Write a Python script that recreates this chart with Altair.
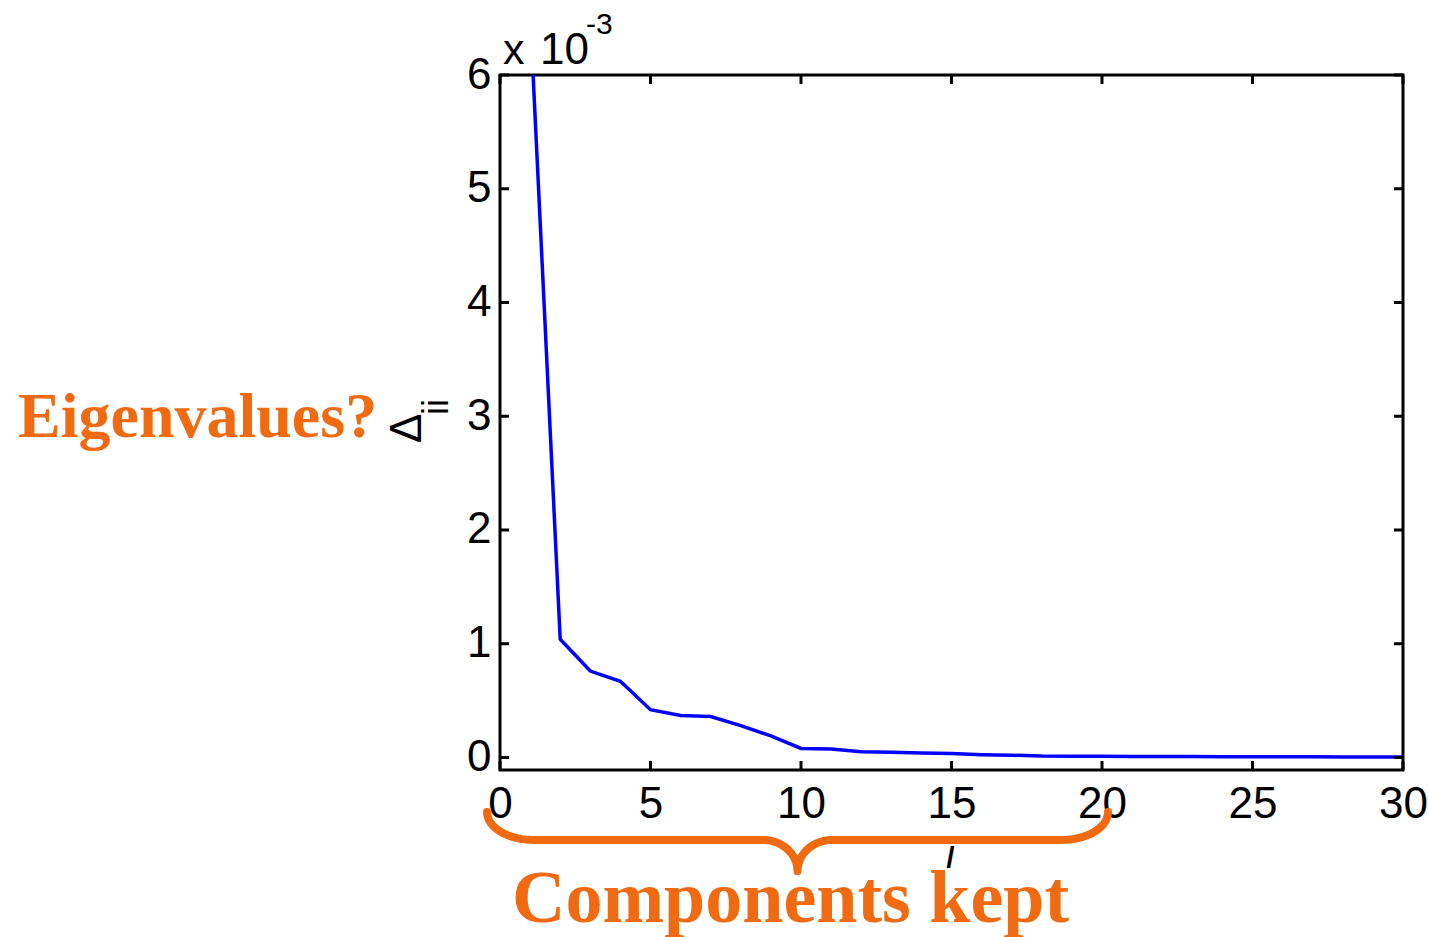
import altair as alt
import numpy as np
import pandas as pd

# ---- data (values in units of 1e-3) ----
comp_i = list(range(1, 31))
delta_ii = [6.55, 1.04, 0.76, 0.67, 0.42, 0.37, 0.36, 0.28, 0.19, 0.08,
            0.075, 0.05, 0.045, 0.04, 0.035, 0.025, 0.02, 0.012, 0.01, 0.01,
            0.009, 0.008, 0.008, 0.007, 0.007, 0.006, 0.006, 0.005, 0.005, 0.004]
x_ticks = [0, 5, 10, 15, 20, 25, 30]
y_ticks = [0, 1, 2, 3, 4, 5, 6]
x_domain = [0, 30]
y_domain = [-0.11, 6]

# brace annotation anchors (data units, below the axis)
brace_x0, brace_x1 = -0.43, 20.2
brace_y_end, brace_y_mid, brace_y_tip = -0.48, -0.725, -1.0
brace_rx_end, brace_rx_tip = 1.55, 1.15

ORANGE = "#EF6A10"
W, H = 903, 695


def brace_points():
    xc = (brace_x0 + brace_x1) / 2
    pts = []
    t = np.linspace(np.pi, 1.5 * np.pi, 20)
    cx = brace_x0 + brace_rx_end
    ry = brace_y_end - brace_y_mid
    for a in t:
        pts.append((cx + brace_rx_end * np.cos(a), brace_y_end + ry * np.sin(a)))
    t2 = np.linspace(0.5 * np.pi, 0.0, 20)
    cx2 = xc - brace_rx_tip
    ry2 = brace_y_mid - brace_y_tip
    for a in t2:
        pts.append((cx2 + brace_rx_tip * np.cos(a), brace_y_tip + ry2 * np.sin(a)))
    right = [(2 * xc - px, py) for px, py in reversed(pts[:-1])]
    allp = pts + right
    return pd.DataFrame({"i": [p[0] for p in allp], "v": [p[1] for p in allp],
                         "k": list(range(len(allp)))})


df = pd.DataFrame({"i": comp_i, "v": delta_ii})
xs = alt.Scale(domain=x_domain, nice=False, zero=False)
ys = alt.Scale(domain=y_domain, nice=False, zero=False)

lab = dict(labelFont="Liberation Sans", labelFontSize=44, labelColor="#000000",
           domain=False, ticks=False, grid=False, title=None, labelFlush=False,
           labelOverlap=False)
xax = alt.Axis(values=x_ticks, labelPadding=12, **lab)
yax = alt.Axis(values=y_ticks, labelPadding=9, **lab)
X = alt.X("i:Q", scale=xs, axis=xax)
Y = alt.Y("v:Q", scale=ys, axis=yax)

line = alt.Chart(df).mark_line(color="#0000FF", strokeWidth=3.5, clip=True).encode(
    x=X, y=Y)

xt = pd.DataFrame({"i": x_ticks})
yt = pd.DataFrame({"v": y_ticks})
tk = dict(color="black", strokeWidth=3)
tick_b = alt.Chart(xt).mark_rule(**tk).encode(x=X, y=alt.value(H), y2=alt.value(H - 9))
tick_t = alt.Chart(xt).mark_rule(**tk).encode(x=X, y=alt.value(0), y2=alt.value(9))
tick_l = alt.Chart(yt).mark_rule(**tk).encode(y=Y, x=alt.value(0), x2=alt.value(9))
tick_r = alt.Chart(yt).mark_rule(**tk).encode(y=Y, x=alt.value(W), x2=alt.value(W - 9))


def txt(s, x, y, size, font="Liberation Sans", color="black", weight="normal",
        style="normal", angle=0, align="left"):
    return alt.Chart(pd.DataFrame({"t": [s]})).mark_text(
        font=font, fontSize=size, color=color, fontWeight=weight, fontStyle=style,
        angle=angle, align=align, baseline="alphabetic").encode(
        x=alt.value(x), y=alt.value(y), text="t:N")


t_x = txt("x", 3, -11, 43)
t_10 = txt("10", 40, -11, 44)
t_exp = txt("-3", 86, -41, 30)
t_delta = txt("Δ", -79, 368, 44, angle=270)
t_ii = txt("ii", -52, 340, 36, angle=270)
t_i = txt("i", 446, 793, 40, style="italic")

brace = alt.Chart(brace_points()).mark_line(
    color=ORANGE, strokeWidth=8, strokeCap="round", strokeJoin="round", clip=False
).encode(x=X, y=Y, order="k:Q")

t_eig = txt("Eigenvalues?", -482, 362, 64, font="Liberation Serif", color=ORANGE,
            weight="bold")
t_comp = txt("Components kept", 12, 847, 74, font="Liberation Serif", color=ORANGE,
             weight="bold")

chart = alt.layer(
    line, tick_b, tick_t, tick_l, tick_r, t_x, t_10, t_exp, t_delta, t_ii, t_i,
    brace, t_eig, t_comp
).properties(
    width=W, height=H,
    autosize=alt.AutoSizeParams(type="none"),
    padding={"left": 500, "top": 75, "right": 26, "bottom": 167},
    background="white",
).configure_view(stroke="black", strokeWidth=3)

chart.save("out.html", embed_options={"renderer": "svg", "actions": False})
